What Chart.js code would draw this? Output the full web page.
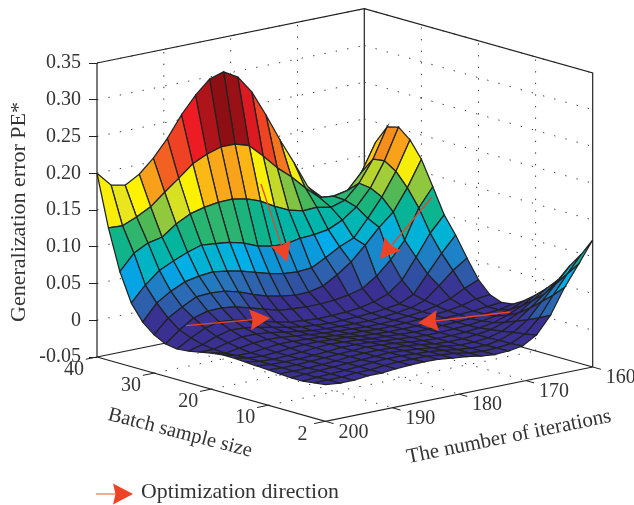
<!DOCTYPE html>
<html><head><meta charset="utf-8">
<style>html,body{margin:0;padding:0;background:#fff}canvas{display:block}</style>
<script src="https://cdn.jsdelivr.net/npm/chart.js@4"></script>
</head><body><canvas id="c" width="634" height="505"></canvas>
<script>
const batchTicks = [40, 30, 20, 10, 2];
const iterationTicks = [200, 190, 180, 170, 160];
const errorTicks = [-0.05, 0, 0.05, 0.10, 0.15, 0.20, 0.25, 0.30, 0.35];
const floorError = -0.05, ceilError = 0.35;
// generalization error: rows run batch 40 -> 2, columns run iterations 200 -> 160
const errorGrid = [
[.200,.180,.176,.187,.205,.228,.256,.279,.297,.303,.292,.268,.233,.195,.160,.123,.105,.095,.105,.135],
[.130,.129,.137,.147,.163,.178,.194,.203,.209,.209,.203,.185,.165,.149,.130,.113,.111,.115,.136,.173],
[.075,.096,.106,.110,.124,.134,.139,.142,.1425,.139,.132,.121,.112,.107,.108,.104,.110,.129,.158,.198],
[.0365,.057,.073,.082,.090,.096,.094,.092,.087,.079,.075,.074,.078,.079,.082,.091,.105,.127,.160,.202],
[.015,.037,.049,.058,.062,.064,.061,.057,.0515,.046,.042,.0405,.042,.052,.063,.071,.094,.119,.150,.189],
[.002,.021,.032,.042,.0433,.042,.037,.030,.0235,.0197,.017,.0175,.0217,.033,.0466,.0656,.086,.103,.132,.167],
[-.006,.009,.0216,.027,.0274,.025,.0196,.014,.0087,.0066,.0054,.0056,.007,.010,.015,.028,.046,.069,.109,.134],
[-.0085,.0025,.012,.0167,.015,.011,.006,.001,-.003,-.005,-.0065,-.006,-.005,-.003,.001,.008,.023,.05,.079,.100],
[-.007,-.002,.005,.010,.009,.006,.002,-.002,-.005,-.007,-.008,-.008,-.007,-.006,-.004,-.001,.008,.032,.056,.077],
[-.004,-.004,.001,.005,.005,.003,0,-.003,-.006,-.007,-.008,-.008,-.008,-.007,-.005,-.002,.004,.020,.037,.050],
[-.001,-.005,-.002,.001,.002,.001,-.001,-.003,-.005,-.006,-.007,-.008,-.008,-.007,-.005,-.003,.001,.007,.017,.025],
[.001,-.004,-.004,-.002,0,0,-.001,-.002,-.004,-.005,-.006,-.007,-.007,-.006,-.005,-.003,-.001,.002,.007,.009],
[.001,-.003,-.004,-.003,-.001,0,0,-.001,-.002,-.004,-.005,-.006,-.006,-.006,-.005,-.003,-.002,-.001,.001,.003],
[0,-.003,-.004,-.003,-.002,0,.001,0,-.001,-.003,-.004,-.005,-.006,-.006,-.005,-.004,-.003,-.001,.001,.005],
[-.001,-.003,-.003,-.003,-.002,-.001,.001,.001,0,-.002,-.003,-.005,-.006,-.006,-.005,-.004,-.002,.001,.006,.014],
[-.002,-.003,-.003,-.002,-.001,0,.001,.002,.001,-.001,-.003,-.005,-.006,-.006,-.005,-.003,0,.006,.015,.026],
[-.003,-.003,-.003,-.002,-.001,.001,.002,.002,.001,0,-.002,-.005,-.006,-.006,-.004,-.001,.005,.014,.027,.040],
[-.004,-.003,-.002,-.001,0,.001,.002,.003,.002,0,-.002,-.004,-.006,-.006,-.004,.001,.011,.025,.040,.056],
[-.004,-.003,-.002,-.001,0,.002,.003,.003,.002,.001,-.001,-.004,-.006,-.006,-.003,.004,.017,.038,.058,.079],
[-.002,-.002,-.002,0,0,.002,.003,.003,.003,.001,-.001,-.004,-.006,-.005,-.003,.006,.024,.051,.076,.099],
[0,-.002,-.002,0,0,.002,.003,.0035,.003,.001,-.001,-.004,-.006,-.005,-.002,.009,.032,.066,.094,.123]
];
const colorLevels = [.018,.032,.05,.06,.07,.085,.1,.112,.125,.136,.15,.155,.162,.167,.172,.178,.19,.214,.233,.247,.254];
const colorStops = ['#3a3091','#2e5aa8','#2a70b8','#0f94d5','#00aeef','#00b5bc','#00b5a0','#1cb37c','#4db856','#92c83e','#d9e021','#e8e520','#fff200','#fdc010','#fbb117','#f7941d','#f26522','#ef4123','#ed1c24','#b0141b','#8e0f13'];
const axisTitles = {error:'Generalization error PE*', batch:'Batch sample size', iteration:'The number of iterations'};
const legendLabel = 'Optimization direction';

// oblique view of the box, in pixels per unit of the two floor axes
const PX_PER_ERROR = 735, U_DX = 228.4, U_DY = 64.3, V_DX = 267.3, V_DY = 54.3;
const project = (u, v, z) => ({x: u*U_DX + v*V_DX, y: z - (u*U_DY - v*V_DY)/PX_PER_ERROR});
const line = (pts, color, width, dash) => ({type:'line', data:pts, borderColor:color, borderWidth:width, borderDash:dash||[], pointRadius:0, tension:0, fill:false, clip:false, spanGaps:true});
const INK = '#222222', DOT = '#3c3c3c', DASH = [1.4, 10.2];

function hex(c){return [1,3,5].map(k=>parseInt(c.substr(k,2),16));}
function shade(z){
  if (z <= colorLevels[0]) return colorStops[0];
  for (let k = 1; k < colorLevels.length; k++) {
    if (z <= colorLevels[k]) {
      const t = (z-colorLevels[k-1])/(colorLevels[k]-colorLevels[k-1]);
      const a = hex(colorStops[k-1]), b = hex(colorStops[k]);
      return 'rgb('+a.map((p,n)=>Math.round(p+(b[n]-p)*t)).join(',')+')';
    }
  }
  return colorStops[colorStops.length-1];
}

const drawOrder = [];
// dotted walls and floor
const fractions = batchTicks.map((_,k)=>k/(batchTicks.length-1));
errorTicks.slice(1).forEach(z=>{
  drawOrder.push(line([project(0,0,z),project(0,1,z)],DOT,1,DASH));
  drawOrder.push(line([project(0,1,z),project(1,1,z)],DOT,1,DASH));
});
fractions.slice(1,-1).forEach(f=>{
  drawOrder.push(line([project(0,f,floorError),project(0,f,ceilError)],DOT,1,DASH));
  drawOrder.push(line([project(f,1,floorError),project(f,1,ceilError)],DOT,1,DASH));
  drawOrder.push(line([project(f,0,floorError),project(f,1,floorError)],DOT,1,DASH));
  drawOrder.push(line([project(0,f,floorError),project(1,f,floorError)],DOT,1,DASH));
});
// back frame
drawOrder.push(line([project(0,0,floorError),project(0,1,floorError),project(1,1,floorError)],INK,1.2));
drawOrder.push(line([project(0,1,floorError),project(0,1,ceilError)],INK,1.2));
drawOrder.push(line([project(0,0,ceilError),project(0,1,ceilError),project(1,1,ceilError),project(1,1,floorError)],INK,1.2));
drawOrder.push(line([project(0,0,floorError),project(0,0,ceilError)],INK,1.2));
// axis lines and ticks on the floor's front edges
drawOrder.push(line([project(0,0,floorError),project(1,0,floorError),project(1,1,floorError)],INK,1.2));
fractions.forEach(f=>{
  drawOrder.push(line([project(f,0,floorError),project(f,-0.042,floorError)],INK,1));
  drawOrder.push(line([project(1,f,floorError),project(1.036,f,floorError)],INK,1));
});
// surface, far cells first
const nI = errorGrid.length-1, nJ = errorGrid[0].length-1;
for (let i = 0; i < nI; i++) for (let j = nJ-1; j >= 0; j--) {
  const corners = [[i,j],[i,j+1],[i+1,j+1],[i+1,j]];
  const zs = corners.map(([a,b])=>errorGrid[a][b]);
  const mean = zs.reduce((s,z)=>s+z,0)/4;
  const pts = corners.map(([a,b],k)=>project(a/nI,b/nJ,zs[k]));
  pts.push(pts[0]);
  const ds = line(pts,INK,1.25);
  ds.fill = 'shape'; ds.backgroundColor = shade(mean);
  drawOrder.push(ds);
}
const datasets = drawOrder.reverse();

const AX_LEFT = 97, TOP_PX = 63, BOTTOM_PX = 148;
// annotation arrows, in the chart's own x and y scale units
const toX = px => px-AX_LEFT, toY = py => (357-py)/PX_PER_ERROR-0.05;
const arrows = [
  [186,325.7,270,318],[261,184,287,262],[432,197,380,259],[510,312,418,323]
].map(a=>[toX(a[0]),toY(a[1]),toX(a[2]),toY(a[3])]);
const legendArrow = [toX(96),toY(494),toX(133),toY(494)];
const ARROW = '#ef4327';
const FONT = '"Liberation Serif", serif', TXT = '#333';

function drawArrow(ctx,x0,y0,x1,y1,shaftColor){
  const a = Math.atan2(y1-y0,x1-x0), L = 20, W = 10.5, N = 17.5;
  ctx.save();
  ctx.translate(x1,y1); ctx.rotate(a);
  const len = Math.hypot(x1-x0,y1-y0);
  ctx.strokeStyle = shaftColor; ctx.lineWidth = 1.3;
  ctx.beginPath(); ctx.moveTo(-len,0); ctx.lineTo(-L+3,0); ctx.stroke();
  ctx.fillStyle = ARROW;
  ctx.beginPath(); ctx.moveTo(0,0); ctx.lineTo(-L,-W); ctx.lineTo(-N,0); ctx.lineTo(-L,W); ctx.closePath(); ctx.fill();
  ctx.restore();
}
function label(ctx,text,x,y,size,rot,align){
  ctx.save();
  ctx.translate(x,y); ctx.rotate(rot||0);
  ctx.font = size+'px '+FONT; ctx.fillStyle = TXT;
  ctx.textAlign = align||'center'; ctx.textBaseline = 'middle';
  ctx.fillText(text,0,0);
  ctx.restore();
}
const overlay = {
  id:'overlay',
  afterDraw(chart){
    const {ctx,scales:{x,y}} = chart;
    const P = p => [x.getPixelForValue(p.x),y.getPixelForValue(p.y)];
    arrows.forEach(a=>drawArrow(ctx,x.getPixelForValue(a[0]),y.getPixelForValue(a[1]),x.getPixelForValue(a[2]),y.getPixelForValue(a[3]),ARROW));
    drawArrow(ctx,x.getPixelForValue(legendArrow[0]),y.getPixelForValue(legendArrow[1]),x.getPixelForValue(legendArrow[2]),y.getPixelForValue(legendArrow[3]),'#f47a5e');
    batchTicks.forEach((t,k)=>{const [px,py]=P(project(fractions[k],0,floorError));label(ctx,String(t),px-23,py+13,20);});
    iterationTicks.forEach((t,k)=>{const [px,py]=P(project(1,fractions[k],floorError));label(ctx,String(t),px+28,py+11,20);});
    label(ctx,axisTitles.error,19,212,22,-Math.PI/2);
    label(ctx,axisTitles.batch,180,433,20.5,14.5*Math.PI/180);
    label(ctx,axisTitles.iteration,509,437,21,-11.5*Math.PI/180);
    label(ctx,legendLabel,141,492,21.8,0,'left');
  }
};

new Chart(document.getElementById('c'),{
  type:'line',
  data:{datasets},
  plugins:[overlay],
  options:{
    responsive:false, animation:false, events:[],
    layout:{padding:0},
    plugins:{legend:{display:false},tooltip:{enabled:false},title:{display:false}},
    scales:{
      x:{type:'linear',display:false,min:0,max:634-AX_LEFT},
      y:{type:'linear',position:'left',
        min:floorError-BOTTOM_PX/PX_PER_ERROR,max:ceilError+TOP_PX/PX_PER_ERROR,
        afterBuildTicks(s){s.ticks = errorTicks.map(value=>({value}));},
        afterFit(s){s.width = AX_LEFT; s.paddingTop = 0; s.paddingBottom = 0;},
        border:{display:false},
        grid:{drawOnChartArea:false,drawTicks:true,tickLength:8,color:INK,lineWidth:1},
        ticks:{autoSkip:false,padding:8,color:TXT,font:{family:FONT,size:20},
          callback:v=>v===0?'0':v.toFixed(2)}
      }
    }
  }
});
</script></body></html>
